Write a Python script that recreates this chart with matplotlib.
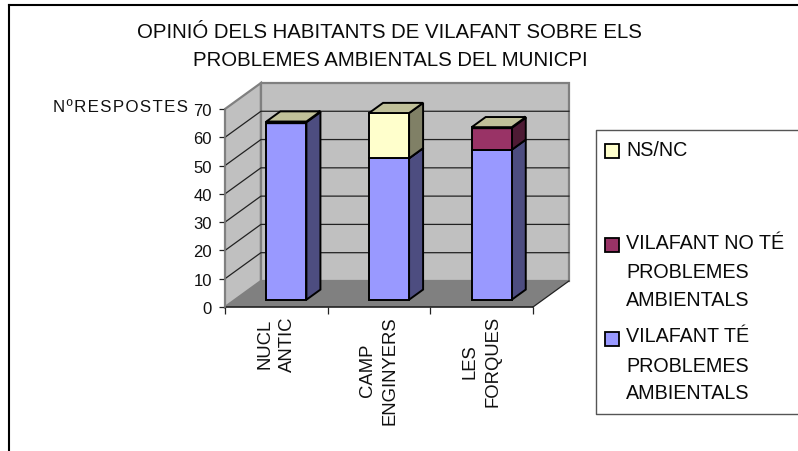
import matplotlib
matplotlib.use("Agg")
import matplotlib.pyplot as plt
from matplotlib.lines import Line2D
from matplotlib.patches import Polygon, Rectangle

plt.rcParams['font.family'] = ['Liberation Sans', 'DejaVu Sans']

W, H = 798, 452

# data
categories = ["NUCL\nANTIC", "CAMP\nENGINYERS", "LES\nFORQUES"]
te_problemes = [63, 50, 53]
no_te_problemes = [0, 0, 8]
ns_nc = [0, 16, 0]
y_ticks = [0, 10, 20, 30, 40, 50, 60, 70]

title_lines = ["OPINIÓ DELS HABITANTS DE VILAFANT SOBRE ELS",
               "PROBLEMES AMBIENTALS DEL MUNICPI"]
y_label = "N\u200aº\u200aR\u200aE\u200aS\u200aP\u200aO\u200aS\u200aT\u200aE\u200aS"

# series: values, front colour, side colour
series = [
    (te_problemes, "#9999FF", "#4D4D80"),
    (no_te_problemes, "#993366", "#4D1A33"),
    (ns_nc, "#FFFFCC", "#808066"),
]
top_colour = "#C0C099"

# depth of the fake 3D box, in data units
DX = 0.35
DY = 9.2
BAR_WIDTH = 0.39
Z0, Z1 = 0.28, 0.67


def fx(x):
    return x / W


def fy(y):
    return 1 - y / H


def proj(x, y, z):
    return (x + z * DX, y + z * DY)


fig = plt.figure(figsize=(W / 100, H / 100), dpi=100)
ax = fig.add_axes([fx(225), fy(308), 308 / W, 198 / H])
ax.set_xlim(0, 3)
ax.set_ylim(0, 70)
for s in ax.spines.values():
    s.set_visible(False)
ax.patch.set_visible(False)


def poly(pts, fc, ec="black", lw=1.4, z=2):
    ax.add_patch(Polygon(pts, closed=True, facecolor=fc, edgecolor=ec, linewidth=lw,
                         clip_on=False, zorder=z, joinstyle="miter"))


# walls and floor
poly([proj(0, 0, 0), proj(0, 70, 0), proj(0, 70, 1), proj(0, 0, 1)], "#C0C0C0", "#808080", 1.6, 1)
poly([proj(0, 0, 1), proj(0, 70, 1), proj(3, 70, 1), proj(3, 0, 1)], "#C0C0C0", "#808080", 1.6, 1)
poly([proj(0, 0, 0), proj(3, 0, 0), proj(3, 0, 1), proj(0, 0, 1)], "#808080", "none", 0, 1.5)

# gridlines
for v in y_ticks[1:-1]:
    xs, ys = zip(proj(0, v, 0), proj(0, v, 1), proj(3, v, 1))
    ax.plot(xs, ys, color="#222222", lw=0.9, clip_on=False, zorder=1.2)
xs, ys = zip(proj(3, 0, 0), proj(3, 0, 1))
ax.plot(xs, ys, color="#222222", lw=0.9, clip_on=False, zorder=1.6)
ax.plot([0, 3], [0, 0], color="#222222", lw=1.2, clip_on=False, zorder=1.6)
ax.plot([0, 0], [0, 70], color="#808080", lw=1.2, clip_on=False, zorder=1.6)

# stacked bars, bottom series first
for i in range(len(categories)):
    left = i + 0.5 - BAR_WIDTH / 2
    right = i + 0.5 + BAR_WIDTH / 2
    base = 0
    for values, front, side in series:
        top = base + values[i]
        # an empty top segment leaves a heavy outline under the lid
        lw = 2.4 if values is ns_nc and values[i] == 0 else 1.4
        poly([proj(right, base, Z0), proj(right, top, Z0), proj(right, top, Z1), proj(right, base, Z1)], side, lw=lw)
        poly([proj(left, base, Z0), proj(right, base, Z0), proj(right, top, Z0), proj(left, top, Z0)], front, lw=lw, z=3)
        base = top
    poly([proj(left, base, Z0), proj(right, base, Z0), proj(right, base, Z1), proj(left, base, Z1)], top_colour, z=3)

# axes ticks
ax.set_yticks(y_ticks)
ax.tick_params(axis="y", length=4.3, width=0.9, pad=5, labelsize=12, color="#222222", labelcolor="#111111")
ax.set_xticks([0, 1, 2, 3])
ax.set_xticklabels([])
ax.set_xticks([i + 0.5 for i in range(len(categories))], minor=True)
ax.set_xticklabels(categories, minor=True, rotation=90, fontsize=13.3, ma="center", linespacing=1.45,
                   color="#111111")
ax.tick_params(axis="x", which="major", length=5, width=0.9, color="#222222")
ax.tick_params(axis="x", which="minor", length=0, pad=6)

# title and the y caption
fig.text(fx(389), fy(32), title_lines[0], ha="center", va="center", fontsize=14.7, color="#0A0A0A")
fig.text(fx(390), fy(61), title_lines[1], ha="center", va="center", fontsize=14.7, color="#0A0A0A")
fig.text(fx(188), fy(108), y_label, ha="right", va="center", fontsize=12.2, color="#111111")

# chart frame, only left and top are in the picture
fig.add_artist(Line2D([fx(8.5), fx(8.5)], [0, fy(5.5)], color="black", lw=1.5))
fig.add_artist(Line2D([fx(8.5), 1], [fy(5.5), fy(5.5)], color="black", lw=1.5))

# legend box runs off the right edge
fig.add_artist(Line2D([1, fx(596), fx(596), 1], [fy(130.5), fy(130.5), fy(415), fy(415)],
                      color="#555555", lw=1))
legend_rows = [
    ("#FFFFCC", 152, ["NS/NC"], [151]),
    ("#993366", 245.5, ["VILAFANT NO TÉ", "PROBLEMES", "AMBIENTALS"], [244, 272, 300]),
    ("#9999FF", 340, ["VILAFANT TÉ", "PROBLEMES", "AMBIENTALS"], [337, 366, 394]),
]
for colour, swatch_y, lines, line_ys in legend_rows:
    fig.add_artist(Rectangle((fx(604.5), fy(swatch_y + 7)), 14 / W, 14 / H, transform=fig.transFigure,
                             facecolor=colour, edgecolor="black", linewidth=1.3))
    for line, ly in zip(lines, line_ys):
        fig.text(fx(626), fy(ly), line, ha="left", va="center", fontsize=14.2, color="#0A0A0A")

fig.savefig("out.png", dpi=100)
